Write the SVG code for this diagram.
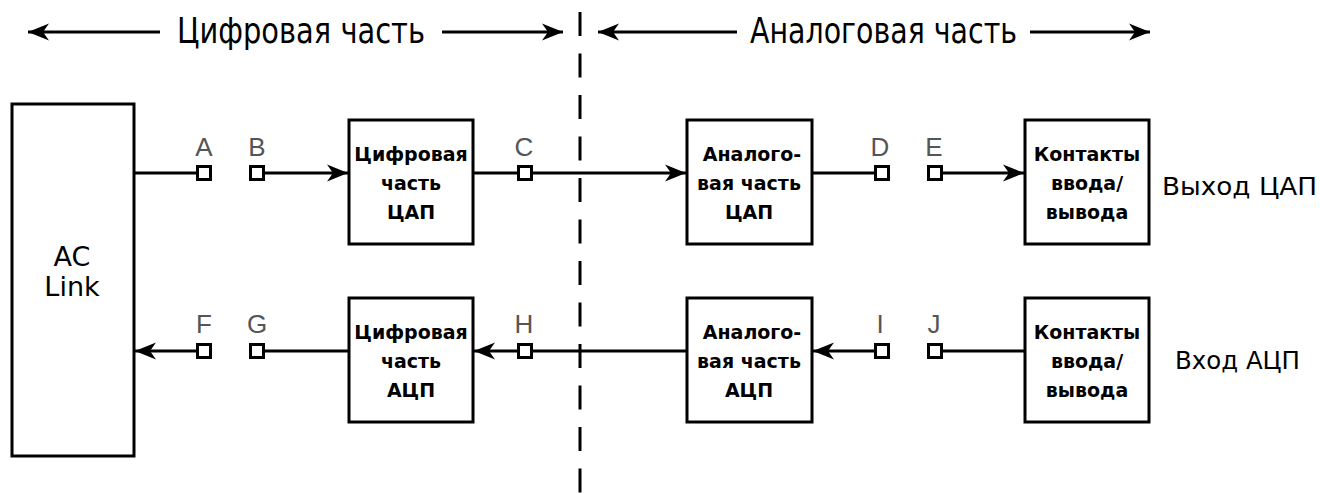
<svg xmlns="http://www.w3.org/2000/svg" width="1320" height="493" viewBox="0 0 1320 493">
  <defs>
    <marker id="arrow" markerUnits="userSpaceOnUse" markerWidth="24" markerHeight="20" viewBox="-22 -10 24 20" refX="0" refY="0" orient="auto">
      <path d="M0,0 L-21,-8.5 L-15,0 L-21,8.5 Z" fill="#000"/>
    </marker>
    <style>
      .box { fill: #fff; stroke: #000; stroke-width: 3; }
      .port { fill: #fff; stroke: #000; stroke-width: 3; }
      .wire { stroke: #000; stroke-width: 3; fill: none; }
      .arr { marker-end: url(#arrow); }
      .btxt { font-family: "DejaVu Sans", "Liberation Sans", sans-serif; font-weight: bold; font-size: 19px; text-anchor: middle; fill: #000; }
      .lbl { font-family: "Liberation Sans", "DejaVu Sans", sans-serif; font-size: 26px; text-anchor: middle; fill: #555; }
      .side { font-family: "DejaVu Sans", "Liberation Sans", sans-serif; font-size: 25px; fill: #000; }
      .ac { font-family: "DejaVu Sans", "Liberation Sans", sans-serif; font-size: 27px; fill: #000; text-anchor: middle; }
      .head { font-family: "DejaVu Sans Condensed", "DejaVu Sans", sans-serif; font-size: 36px; fill: #000; }
    </style>
  </defs>

  <!-- section headings -->
  <g id="headings">
    <line class="wire arr" x1="160" y1="32" x2="28" y2="32"/>
    <text class="head" x="177" y="43" textLength="248" lengthAdjust="spacingAndGlyphs">Цифровая часть</text>
    <line class="wire arr" x1="442" y1="32" x2="563" y2="32"/>
    <line class="wire arr" x1="737" y1="32" x2="598" y2="32"/>
    <text class="head" x="750" y="43" textLength="267" lengthAdjust="spacingAndGlyphs">Аналоговая часть</text>
    <line class="wire arr" x1="1030" y1="32" x2="1150" y2="32"/>
  </g>

  <!-- boundary between the digital and analog parts -->
  <line id="boundary" x1="580" y1="12" x2="580" y2="493" stroke="#000" stroke-width="3" stroke-dasharray="24 17.5"/>

  <!-- connectors -->
  <g id="connectors">
    <!-- DAC path -->
    <line class="wire" x1="134" y1="173" x2="197" y2="173"/>
    <line class="wire arr" x1="264" y1="173" x2="348" y2="173"/>
    <line class="wire" x1="473" y1="173" x2="518" y2="173"/>
    <line class="wire arr" x1="532" y1="173" x2="686" y2="173"/>
    <line class="wire" x1="812" y1="173" x2="875" y2="173"/>
    <line class="wire arr" x1="942" y1="173" x2="1024" y2="173"/>
    <!-- ADC path -->
    <line class="wire arr" x1="197" y1="351" x2="135" y2="351"/>
    <line class="wire" x1="264" y1="351" x2="349" y2="351"/>
    <line class="wire arr" x1="518" y1="351" x2="474" y2="351"/>
    <line class="wire" x1="687" y1="351" x2="532" y2="351"/>
    <line class="wire arr" x1="875" y1="351" x2="813" y2="351"/>
    <line class="wire" x1="1025" y1="351" x2="942" y2="351"/>
  </g>

  <!-- test points -->
  <g id="ports">
    <rect class="port" x="197.5" y="166.5" width="13" height="13"/>
    <rect class="port" x="250.5" y="166.5" width="13" height="13"/>
    <rect class="port" x="518.5" y="166.5" width="13" height="13"/>
    <rect class="port" x="875.5" y="166.5" width="13" height="13"/>
    <rect class="port" x="928.5" y="166.5" width="13" height="13"/>
    <rect class="port" x="197.5" y="344.5" width="13" height="13"/>
    <rect class="port" x="250.5" y="344.5" width="13" height="13"/>
    <rect class="port" x="518.5" y="344.5" width="13" height="13"/>
    <rect class="port" x="875.5" y="344.5" width="13" height="13"/>
    <rect class="port" x="928.5" y="344.5" width="13" height="13"/>
  </g>
  <g id="port-labels">
    <text class="lbl" x="204" y="156">A</text>
    <text class="lbl" x="257" y="156">B</text>
    <text class="lbl" x="524" y="156">C</text>
    <text class="lbl" x="880" y="156">D</text>
    <text class="lbl" x="934" y="156">E</text>
    <text class="lbl" x="204" y="333">F</text>
    <text class="lbl" x="257" y="333">G</text>
    <text class="lbl" x="524" y="333">H</text>
    <text class="lbl" x="880" y="333">I</text>
    <text class="lbl" x="934" y="333">J</text>
  </g>

  <!-- blocks -->
  <g id="ac-link">
    <rect class="box" x="12" y="104" width="122" height="352"/>
    <text class="ac" x="72" y="266">AC</text>
    <text class="ac" x="72" y="296">Link</text>
  </g>

  <g id="dac-digital">
    <rect class="box" x="349" y="120" width="124" height="124"/>
    <text class="btxt" x="411" y="161">Цифровая</text>
    <text class="btxt" x="411" y="190">часть</text>
    <text class="btxt" x="411" y="219">ЦАП</text>
  </g>
  <g id="dac-analog">
    <rect class="box" x="687" y="120" width="125" height="124"/>
    <text class="btxt" x="752" y="161">Аналого-</text>
    <text class="btxt" x="749" y="190">вая часть</text>
    <text class="btxt" x="749" y="219">ЦАП</text>
  </g>
  <g id="dac-io">
    <rect class="box" x="1025" y="120" width="124" height="124"/>
    <text class="btxt" x="1087" y="161">Контакты</text>
    <text class="btxt" x="1087" y="190">ввода/</text>
    <text class="btxt" x="1087" y="219">вывода</text>
  </g>
  <text id="dac-out" class="side" x="1162" y="195" textLength="155" lengthAdjust="spacingAndGlyphs">Выход ЦАП</text>

  <g id="adc-digital">
    <rect class="box" x="349" y="298" width="124" height="124"/>
    <text class="btxt" x="411" y="339">Цифровая</text>
    <text class="btxt" x="411" y="368">часть</text>
    <text class="btxt" x="411" y="397">АЦП</text>
  </g>
  <g id="adc-analog">
    <rect class="box" x="687" y="298" width="125" height="124"/>
    <text class="btxt" x="752" y="339">Аналого-</text>
    <text class="btxt" x="749" y="368">вая часть</text>
    <text class="btxt" x="749" y="397">АЦП</text>
  </g>
  <g id="adc-io">
    <rect class="box" x="1025" y="298" width="124" height="124"/>
    <text class="btxt" x="1087" y="339">Контакты</text>
    <text class="btxt" x="1087" y="368">ввода/</text>
    <text class="btxt" x="1087" y="397">вывода</text>
  </g>
  <text id="adc-in" class="side" x="1175" y="369" textLength="125" lengthAdjust="spacingAndGlyphs">Вход АЦП</text>
</svg>
